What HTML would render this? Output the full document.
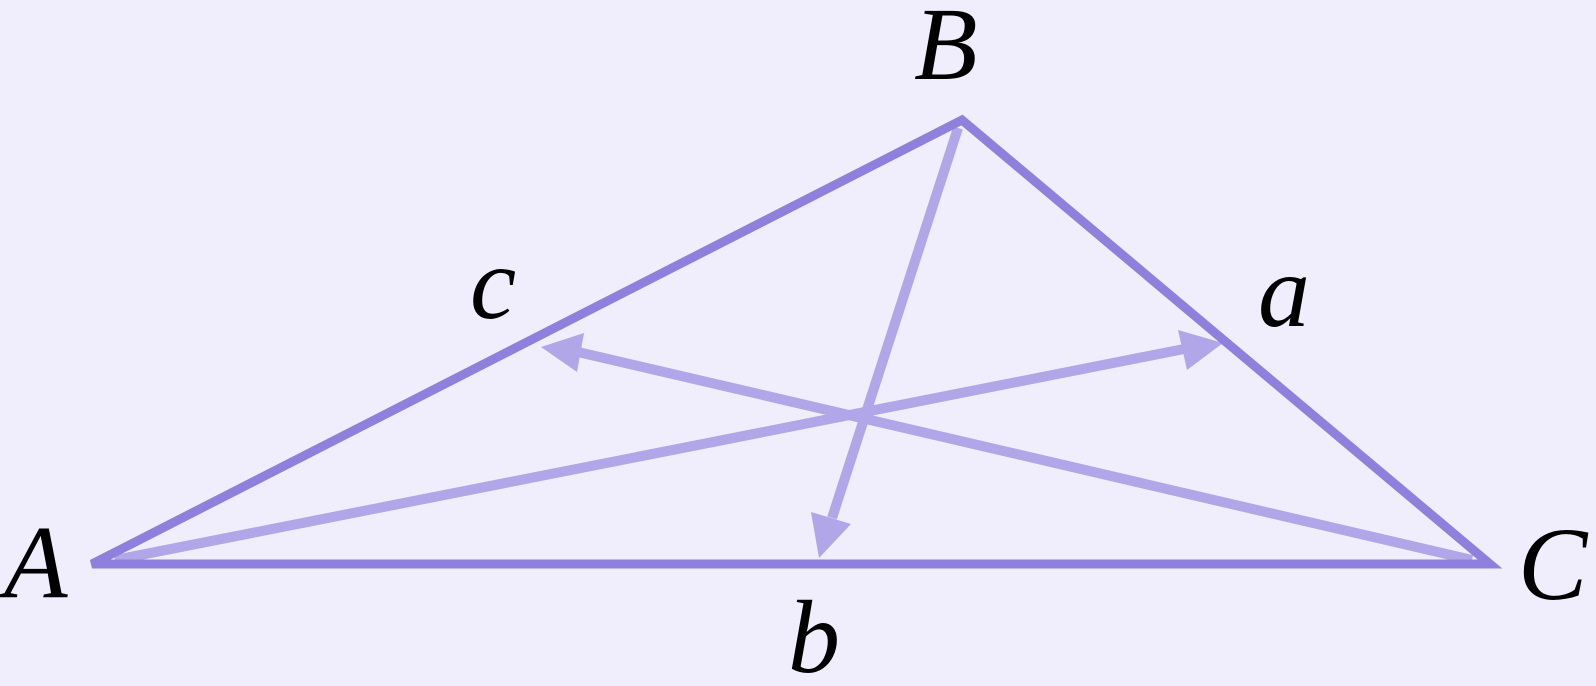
<!DOCTYPE html>
<html><head><meta charset="utf-8"><style>
html,body{margin:0;padding:0;background:#f0eefc;}
svg{display:block}
text{font-family:"Liberation Serif",serif;font-style:italic;font-size:104px;fill:#000}
</style></head><body>
<svg width="1596" height="686" viewBox="0 0 1596 686" xmlns="http://www.w3.org/2000/svg">
<rect width="1596" height="686" fill="#f0eefc"/>
<g stroke="#b0a6e8" stroke-width="10" fill="none">
<line x1="958" y1="128" x2="832" y2="518"/>
<line x1="115" y1="560" x2="1184" y2="349"/>
<line x1="1472" y1="560" x2="578" y2="352"/>
</g>
<g fill="#b0a6e8">
<polygon points="819,558 851,524 811,512"/>
<polygon points="1223,343 1187,370 1178,330"/>
<polygon points="541,347 577,372 584,333"/>
</g>
<polygon points="92,564 962,120 1490,564" fill="none" stroke="#8e80dc" stroke-width="9" stroke-linejoin="miter"/>
<text x="4" y="597">A</text>
<text x="914" y="79">B</text>
<text x="1518" y="599">C</text>
<text x="470" y="318">c</text>
<text x="1258" y="326">a</text>
<text x="788" y="672">b</text>
</svg>
</body></html>
